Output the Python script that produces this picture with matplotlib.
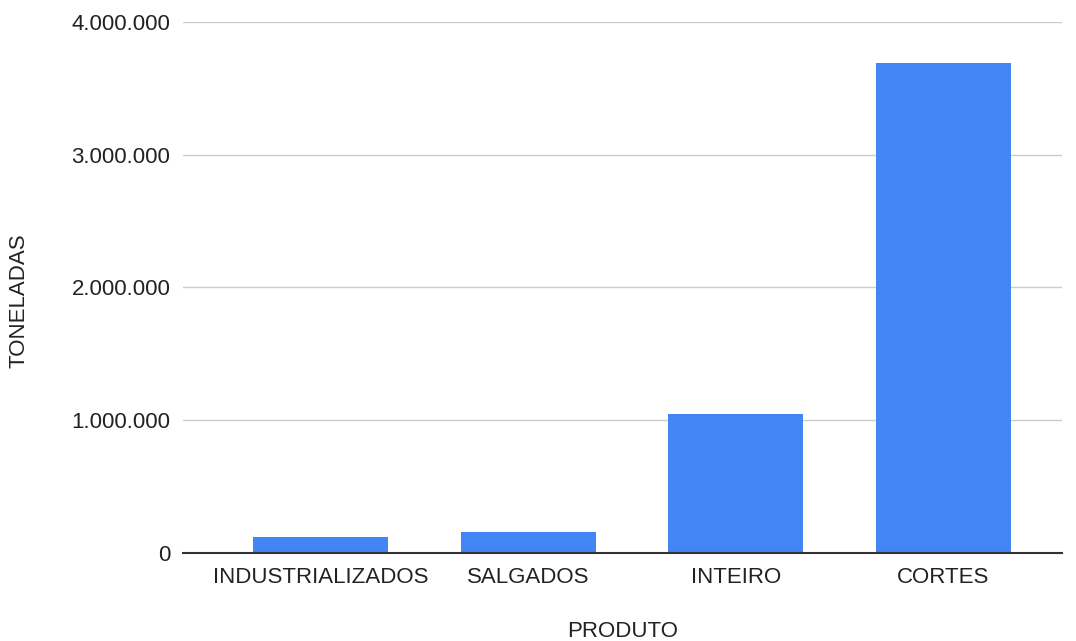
import matplotlib.pyplot as plt
from matplotlib.ticker import FuncFormatter

produtos = ["INDUSTRIALIZADOS", "SALGADOS", "INTEIRO", "CORTES"]
toneladas = [120000, 160000, 1047000, 3690000]
y_ticks = [0, 1000000, 2000000, 3000000, 4000000]

plt.rcParams['font.family'] = ['Liberation Sans', 'DejaVu Sans']

fig = plt.figure(figsize=(10.76, 6.41), dpi=100)
ax = fig.add_axes([0.170, 0.137, 0.817, 0.829])

x = range(len(produtos))
ax.bar(x, toneladas, width=0.65, color='#4285f4', zorder=3)

ax.set_xlim(-0.665, 3.573)
ax.set_ylim(0, 4000000)
ax.set_yticks(y_ticks)
ax.yaxis.set_major_formatter(FuncFormatter(lambda v, p: f"{int(v):,}".replace(",", ".")))
ax.set_xticks(list(x))
ax.set_xticklabels(produtos)

ax.grid(axis='y', color='#cccccc', linewidth=1, zorder=0)
for s in ['top', 'right', 'left']:
    ax.spines[s].set_visible(False)
ax.spines['bottom'].set_color('#333333')
ax.spines['bottom'].set_linewidth(1.5)
ax.spines['bottom'].set_zorder(4)
ax.tick_params(axis='both', length=0, labelsize=16, colors='#222222')
ax.tick_params(axis='y', pad=9)
ax.tick_params(axis='x', pad=10)

ax.set_ylabel("TONELADAS", fontsize=16, color='#222222')
ax.set_xlabel("PRODUTO", fontsize=16, color='#222222')
ax.yaxis.set_label_coords(-0.175, 0.476)
ax.xaxis.set_label_coords(0.5, -0.128)

fig.savefig("out.png", dpi=100)
